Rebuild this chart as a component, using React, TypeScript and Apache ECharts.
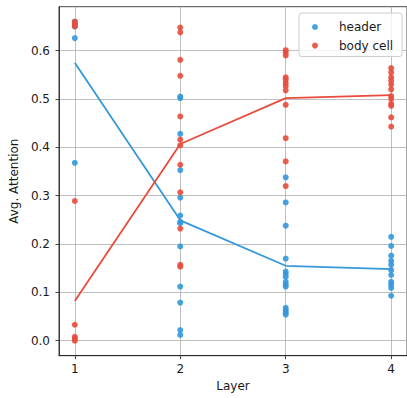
import React, { useEffect, useRef } from "react";
import * as echarts from "echarts";

const layers = [1, 2, 3, 4];
const yTicks = [0, 0.1, 0.2, 0.3, 0.4, 0.5, 0.6];

// per-layer scatter values
const headerL1 = [0.66, 0.655, 0.65, 0.626, 0.368];
const headerL2 = [0.505, 0.502, 0.428, 0.353, 0.296, 0.259, 0.246, 0.243, 0.195, 0.112, 0.079, 0.022, 0.012];
const headerL3 = [0.338, 0.286, 0.238, 0.17, 0.143, 0.138, 0.132, 0.122, 0.116, 0.112, 0.068, 0.063, 0.058, 0.054];
const headerL4 = [0.215, 0.196, 0.176, 0.165, 0.157, 0.146, 0.136, 0.122, 0.116, 0.109, 0.093];

const bodyL1 = [0.66, 0.655, 0.65, 0.289, 0.033, 0.008, 0.004, 0.0];
const bodyL2 = [0.648, 0.638, 0.581, 0.548, 0.464, 0.416, 0.404, 0.364, 0.307, 0.232, 0.157, 0.153];
const bodyL3 = [0.601, 0.596, 0.59, 0.545, 0.54, 0.533, 0.527, 0.518, 0.488, 0.419, 0.371, 0.32];
const bodyL4 = [0.564, 0.555, 0.545, 0.538, 0.53, 0.52, 0.506, 0.5, 0.49, 0.486, 0.462, 0.443];

// mean lines
const headerMean = [0.575, 0.249, 0.155, 0.148];
const bodyMean = [0.082, 0.407, 0.502, 0.508];

const BLUE = "#3498db";
const RED = "#e74c3c";
const FONT = "DejaVu Sans";

function toPoints(groups: number[][]) {
  const out: number[][] = [];
  groups.forEach((vals, i) => vals.forEach((v) => out.push([layers[i], v])));
  return out;
}

export default function App() {
  const ref = useRef<HTMLDivElement>(null);
  useEffect(() => {
    if (!ref.current) return;
    const chart = echarts.init(ref.current, undefined, { renderer: "svg" });
    const axisText = { color: "#1a1a1a", fontSize: 12, fontFamily: FONT };
    chart.setOption({
      animation: false,
      textStyle: { fontFamily: FONT },
      grid: {
        left: 56.5,
        top: 6.7,
        width: 352,
        height: 349,
        show: true,
        borderColor: "#1a1a1a",
        borderWidth: 0.8,
        backgroundColor: "transparent",
      },
      legend: {
        left: 299,
        top: 13,
        orient: "vertical",
        data: ["header", "body cell"],
        icon: "circle",
        itemWidth: 28,
        itemHeight: 6,
        itemGap: 6.6,
        padding: [8, 9, 5, 13],
        borderColor: "#cccccc",
        borderWidth: 1,
        borderRadius: 3,
        backgroundColor: "rgba(255,255,255,0.8)",
        textStyle: { ...axisText, padding: [0, 0, 0, 5] },
      },
      xAxis: {
        type: "value",
        min: 0.85,
        max: 4.15,
        name: "Layer",
        nameLocation: "middle",
        nameGap: 24,
        nameTextStyle: axisText,
        axisLine: { show: true, onZero: false, lineStyle: { color: "#1a1a1a", width: 0.8 } },
        axisTick: { show: true, length: 3.5, customValues: layers, lineStyle: { color: "#1a1a1a", width: 0.8 } },
        axisLabel: { ...axisText, margin: 7, customValues: layers, formatter: (v: number) => String(v) },
        splitLine: { show: true, lineStyle: { color: "#b0b0b0", width: 0.8 } },
      },
      yAxis: {
        type: "value",
        min: -0.031,
        max: 0.691,
        name: "Avg. Attention",
        nameLocation: "middle",
        nameGap: 33.5,
        nameTextStyle: axisText,
        axisLine: { show: true, onZero: false, lineStyle: { color: "#1a1a1a", width: 0.8 } },
        axisTick: { show: true, length: 3.5, customValues: yTicks, lineStyle: { color: "#1a1a1a", width: 0.8 } },
        axisLabel: { ...axisText, margin: 9, customValues: yTicks, formatter: (v: number) => v.toFixed(1) },
        splitLine: { show: true, lineStyle: { color: "#b0b0b0", width: 0.8 } },
      },
      series: [
        {
          name: "header",
          type: "scatter",
          data: toPoints([headerL1, headerL2, headerL3, headerL4]),
          symbolSize: 6,
          itemStyle: { color: BLUE, opacity: 0.9 },
          z: 2,
        },
        {
          name: "body cell",
          type: "scatter",
          data: toPoints([bodyL1, bodyL2, bodyL3, bodyL4]),
          symbolSize: 6,
          itemStyle: { color: RED, opacity: 0.9 },
          z: 2,
        },
        {
          name: "header mean",
          type: "line",
          data: layers.map((l, i) => [l, headerMean[i]]),
          showSymbol: false,
          lineStyle: { color: BLUE, width: 1.8 },
          itemStyle: { color: BLUE },
          z: 3,
        },
        {
          name: "body mean",
          type: "line",
          data: layers.map((l, i) => [l, bodyMean[i]]),
          showSymbol: false,
          lineStyle: { color: RED, width: 1.8 },
          itemStyle: { color: RED },
          z: 3,
        },
      ],
    });
    return () => chart.dispose();
  }, []);
  return (
    <div
      ref={ref}
      style={{ position: "fixed", left: 0, top: 0, width: 407, height: 398, background: "#fff" }}
    />
  );
}
